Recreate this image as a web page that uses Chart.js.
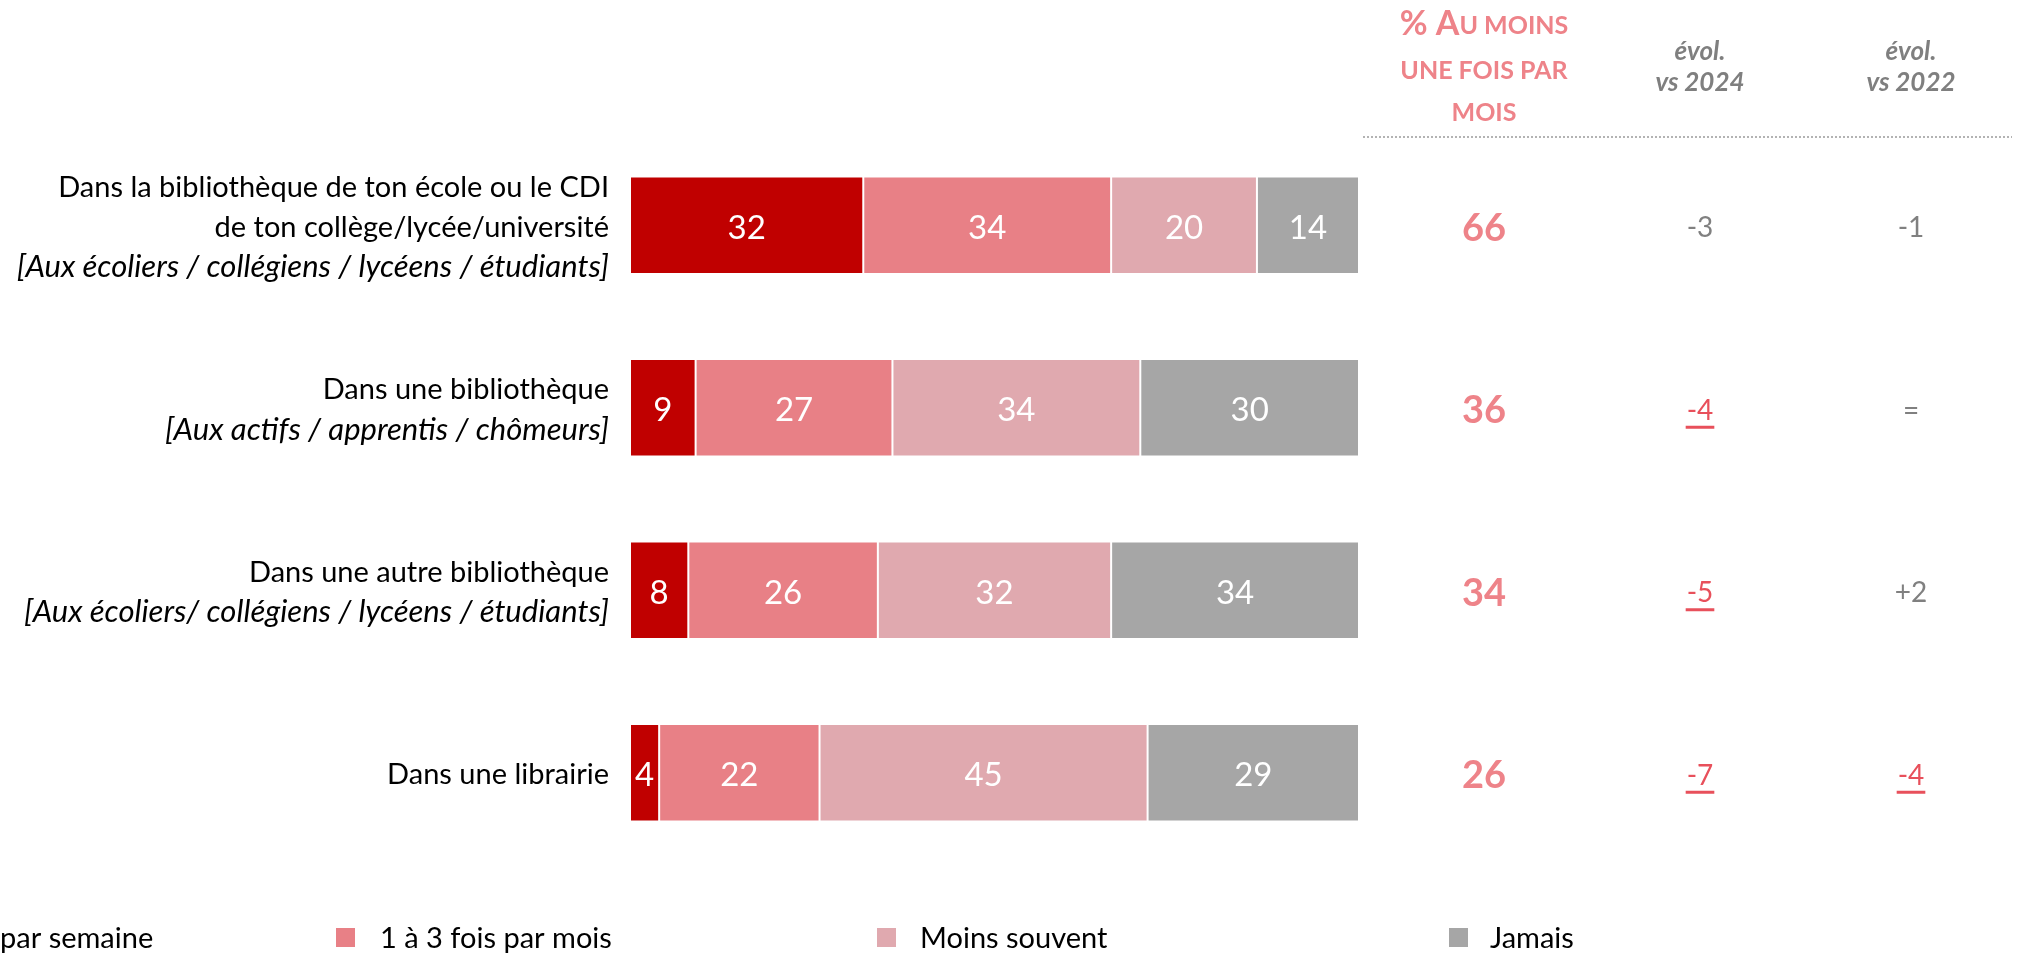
<!DOCTYPE html>
<html>
<head>
<meta charset="utf-8">
<script src="https://cdn.jsdelivr.net/npm/chart.js@4"></script>
<style>
  html, body { margin: 0; padding: 0; background: #fff; }
  #wrap { width: 2020px; height: 953px; position: relative; }
</style>
</head>
<body>
<div id="wrap"><canvas id="chart" width="2020" height="953"></canvas></div>
<script>
// categories (each label is a list of lines, the last one in italics if it starts with "[")
const categories = [
  ['Dans la bibliothèque de ton école ou le CDI', 'de ton collège/lycée/université', '[Aux écoliers / collégiens / lycéens / étudiants]'],
  ['Dans une bibliothèque', '[Aux actifs / apprentis / chômeurs]'],
  ['Dans une autre bibliothèque', '[Aux écoliers/ collégiens / lycéens / étudiants]'],
  ['Dans une librairie']
]

const seriesNames = ['Au moins une fois par semaine', '1 à 3 fois par mois', 'Moins souvent', 'Jamais']
const legendTexts = ['par semaine', '1 à 3 fois par mois', 'Moins souvent', 'Jamais']
const weekly = [32, 9, 8, 4]
const monthly = [34, 27, 26, 22]
const lessOften = [20, 34, 32, 45]
const never = [14, 30, 34, 29]

const atLeastMonthly = [66, 36, 34, 26]
const evol2024 = ['-3', '-4', '-5', '-7']
const sig2024 = [false, true, true, true]
const evol2022 = ['-1', '=', '+2', '-4']
const sig2022 = [false, false, false, true]

const colors = ['#C00000', '#E88086', '#E0A9AF', '#A6A6A6']
const FONT = 'Lato, "Open Sans", sans-serif'

// libellés des lignes, colonnes de droite, légende
const extras = {
  id: 'extras',
  afterDraw(chart) {
    const ctx = chart.ctx
    const y = chart.scales.y
    ctx.save()

    // libellés à gauche
    ctx.textAlign = 'right'
    ctx.textBaseline = 'middle'
    ctx.fillStyle = '#000'
    categories.forEach((lines, i) => {
      const cy = y.getPixelForValue(i) + 2
      const lh = 40
      lines.forEach((txt, j) => {
        const italic = txt.startsWith('[')
        ctx.font = italic ? `italic 31px ${FONT}` : `29px ${FONT}`
        ctx.fillText(txt, 609, cy + (j - (lines.length - 1) / 2) * lh)
      })
    })

    // en-tête colonne % au moins une fois par mois
    const pink = '#EE8389'
    ctx.fillStyle = pink
    ctx.textAlign = 'left'
    ctx.font = `bold 34px ${FONT}`
    const a = '% A'
    const wa = ctx.measureText(a).width
    ctx.font = `bold 25px ${FONT}`
    const b = 'U MOINS'
    const wb = ctx.measureText(b).width
    let x0 = 1484 - (wa + wb) / 2
    ctx.font = `bold 34px ${FONT}`
    ctx.fillText(a, x0, 24)
    ctx.font = `bold 25px ${FONT}`
    ctx.fillText(b, x0 + wa, 26)
    ctx.textAlign = 'center'
    ctx.fillText('UNE FOIS PAR', 1484, 71)
    ctx.fillText('MOIS', 1484, 113)

    // en-têtes évolutions
    ctx.fillStyle = '#7F7F7F'
    ctx.font = `italic bold 26px ${FONT}`
    ctx.fillText('évol.', 1700, 52)
    ctx.fillText('vs 2024', 1700, 83)
    ctx.fillText('évol.', 1911, 52)
    ctx.fillText('vs 2022', 1911, 83)

    // ligne pointillée
    ctx.strokeStyle = '#9A9A9A'
    ctx.lineWidth = 1.5
    ctx.setLineDash([2, 2])
    ctx.beginPath()
    ctx.moveTo(1363, 137)
    ctx.lineTo(2012, 137)
    ctx.stroke()
    ctx.setLineDash([])

    // valeurs des colonnes
    const red = '#E8505B'
    const drawEvol = (txt, sig, x, cy) => {
      ctx.font = `28px ${FONT}`
      ctx.fillStyle = sig ? red : '#808080'
      ctx.fillText(txt, x, cy)
      if (sig) {
        const w = ctx.measureText(txt).width
        ctx.fillRect(x - w / 2 - 1, cy + 15, w + 2, 3)
      }
    }
    atLeastMonthly.forEach((v, i) => {
      const cy = y.getPixelForValue(i) + 3
      ctx.font = `bold 38px ${FONT}`
      ctx.fillStyle = pink
      ctx.fillText(String(v), 1484, cy)
      drawEvol(evol2024[i], sig2024[i], 1700, cy)
      drawEvol(evol2022[i], sig2022[i], 1911, cy)
    })

    // légende
    const legX = [null, 336, 877, 1449]
    const txtX = [0, 380, 920, 1490]
    const ly = 939
    ctx.textAlign = 'left'
    ctx.font = `29px ${FONT}`
    legendTexts.forEach((t, i) => {
      if (legX[i] !== null) {
        ctx.fillStyle = colors[i]
        ctx.fillRect(legX[i], ly - 11, 19, 19)
      }
      ctx.fillStyle = '#000'
      ctx.fillText(t, txtX[i], ly)
    })
    ctx.restore()
  }
}

// valeurs dans les barres
const barValues = {
  id: 'barValues',
  afterDatasetsDraw(chart) {
    const ctx = chart.ctx
    ctx.save()
    ctx.fillStyle = '#fff'
    ctx.font = `33px ${FONT}`
    ctx.textAlign = 'center'
    ctx.textBaseline = 'middle'
    chart.data.datasets.forEach((ds, di) => {
      chart.getDatasetMeta(di).data.forEach((bar, i) => {
        const cx = (bar.x + bar.base) / 2
        ctx.fillText(String(ds.data[i]), cx, bar.y + 3)
      })
    })
    ctx.restore()
  }
}

const ctx = document.getElementById('chart').getContext('2d')
new Chart(ctx, {
  type: 'bar',
  data: {
    labels: categories.map(c => c.join(' ')),
    datasets: [weekly, monthly, lessOften, never].map((d, i) => ({
      label: seriesNames[i],
      data: d,
      backgroundColor: colors[i],
      borderColor: '#fff',
      borderWidth: 1,
      borderSkipped: false,
      categoryPercentage: 1,
      barPercentage: 0.535
    }))
  },
  options: {
    indexAxis: 'y',
    responsive: false,
    animation: false,
    layout: { padding: { left: 630, right: 661, top: 134, bottom: 89 } },
    plugins: { legend: { display: false }, tooltip: { enabled: false } },
    scales: {
      x: { stacked: true, min: 0, max: 100, display: false },
      y: { stacked: true, display: false }
    }
  },
  plugins: [barValues, extras]
})
</script>
</body>
</html>
